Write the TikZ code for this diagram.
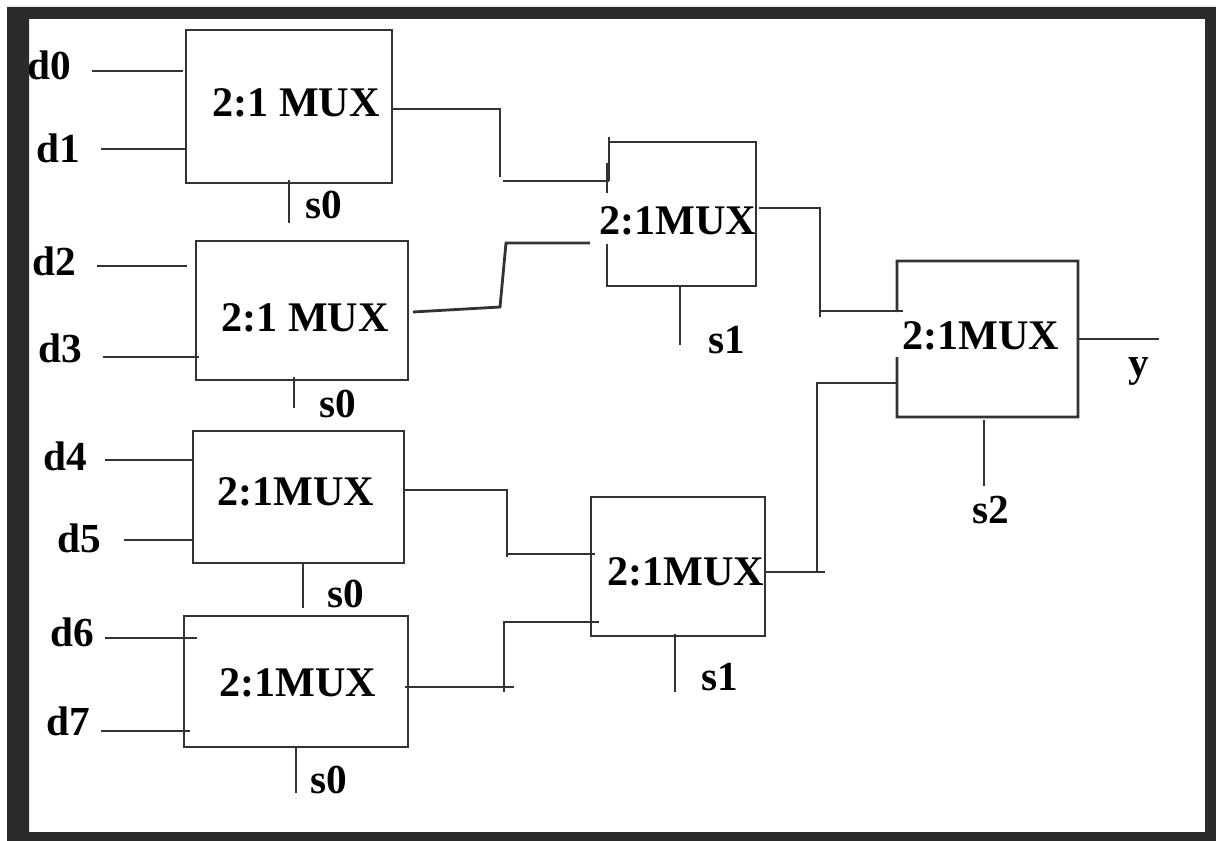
\documentclass[tikz,border=0pt]{standalone}
\usepackage{fontspec}
\setmainfont{Liberation Serif}
\usetikzlibrary{calc, positioning}
\definecolor{frameblk}{HTML}{2B2B2B}
\definecolor{wireblk}{HTML}{333333}
\tikzset{
  % blocco del multiplexer
  muxbox/.style={draw=wireblk, line width=1.6pt, outer sep=0pt, inner sep=0pt},
  % blocco con il lato sinistro interrotto
  muxopen/.style={muxbox, draw=none},
  % collegamenti
  wire/.style={line width=1.6pt, wireblk},
  % etichette
  lbl/.style={font=\fontsize{23.5}{26}\selectfont\bfseries, anchor=base west, inner sep=0pt, text=black},
  muxlbl/.style={lbl, font=\fontsize{24}{26}\selectfont\bfseries},
}
\begin{document}
\begin{tikzpicture}[x=0.02cm, y=-0.02cm]
  \useasboundingbox (0,0) rectangle (1216,841);
  % blocchi
  \node[muxbox, minimum width=4.12cm, minimum height=3.06cm] (m0) at (289,106.5) {};
  \node[muxbox, minimum width=4.24cm, minimum height=2.78cm] (m1) at (302,310.5) {};
  \node[muxbox, minimum width=4.22cm, minimum height=2.64cm] (m2) at (298.5,497) {};
  \node[muxbox, minimum width=4.48cm, minimum height=2.62cm] (m3) at (296,681.5) {};
  \node[muxopen, minimum width=2.94cm, minimum height=2.88cm] (m4) at (682.5,214) {};
  \node[muxbox, minimum width=3.48cm, minimum height=2.78cm] (m5) at (678,566.5) {};
  \node[muxopen, minimum width=3.62cm, minimum height=3.12cm] (m6) at (987.5,339) {};
  \coordinate (m4up) at (609,137); \coordinate (m4top) at (609,181); \coordinate (m4low) at (607,244);
  \coordinate (m6top) at (897,312); \coordinate (m6low) at (897,357);
  \draw[wire] (m4up) -- (m4top);
  \draw[wire] (m4.north west) -- (m4.north east) -- (m4.south east) -- (m4low |- m4.south) -- (m4low);
  \draw[wire] (m6top) -- (m6.north west) -- (m6.north east) -- (m6.south east) -- (m6.south west) -- (m6low);
  % testi dei blocchi
  \foreach \n/\t/\x/\y in {t0/2:1 MUX/212/117, t1/2:1 MUX/221/331, t2/2:1MUX/217/505, t3/2:1MUX/219/696,
    t4/2:1MUX/599/235, t5/2:1MUX/607/585, t6/2:1MUX/902/349}
    \node[muxlbl] (\n) at (\x,\y) {\t};
  % ingressi
  \foreach \n/\x/\y in {d0/27/80, d1/36/163, d2/32/275, d3/38/362, d4/43/470, d5/57/552, d6/50/646, d7/46/735}
    \node[lbl] (\n) at (\x,\y) {\n};
  \foreach \n/\m/\x/\y/\d in {0/m0/92/71/-3, 1/m0/101/149/0, 2/m1/97/266/-9, 3/m1/103/357/3,
    4/m2/105/460/0, 5/m2/124/540/0, 6/m3/105/638/13, 7/m3/101/731/6} {
    \coordinate (i\n) at (\x,\y);
    \draw[wire] (i\n) -- ($(\m.west |- i\n)+(\d,0)$);
  }
  % selezioni
  \foreach \n/\t/\x/\y in {s0a/s0/305/218, s0b/s0/319/417, s0c/s0/327/607, s0d/s0/310/793,
    s1a/s1/708/353, s1b/s1/701/690, s2a/s2/972/523, ya/y/1128/376}
    \node[lbl] (\n) at (\x,\y) {\t};
  \foreach \n/\m/\x/\y/\d in {0/m0/289/223/-3, 1/m1/294/408/-3, 2/m2/303/608/0, 3/m3/296/793/0,
    4/m4/680/345/0, 5/m5/675/692/-2, 6/m6/984/486/3} {
    \coordinate (c\n) at (\x,\y);
    \draw[wire] ($(\m.south -| c\n)+(0,\d)$) -- (c\n);
  }
  % primo stadio
  \coordinate (a0) at (500,109); \coordinate (a1) at (500,177);
  \coordinate (a2) at (503,181); \coordinate (a3) at (607,163); \coordinate (a4) at (607,193);
  \draw[wire] (m0.east |- a0) -- (a0) -- (a1);
  \draw[wire] (a2) -- (m4top);
  \draw[wire] (a3) -- (a4);
  \coordinate (b0) at (413,312); \coordinate (b1) at (500,307);
  \coordinate (b2) at (506,243); \coordinate (b3) at (590,243);
  \draw[wire] (b0) -- (b1) -- (b2) -- (b3);
  \coordinate (e0) at (507,490); \coordinate (e1) at (507,557); \coordinate (e2) at (507,554); \coordinate (e3) at (595,554);
  \draw[wire] (m2.east |- e0) -- (e0) -- (e1);
  \draw[wire] (e2) -- (e3);
  \coordinate (f0) at (405,687); \coordinate (f1) at (514,687);
  \coordinate (f2) at (504,692); \coordinate (f3) at (504,622); \coordinate (f4) at (599,622);
  \draw[wire] (f0) -- (f1);
  \draw[wire] (f2) -- (f3) -- (f4);
  % secondo stadio
  \coordinate (g0) at (759,208); \coordinate (g1) at (820,208); \coordinate (g2) at (820,317);
  \coordinate (g3) at (820,311); \coordinate (g4) at (903,311);
  \draw[wire] (g0) -- (g1) -- (g2);
  \draw[wire] (g3) -- (g4);
  \coordinate (h0) at (825,572); \coordinate (h1) at (817,572); \coordinate (h2) at (817,383);
  \draw[wire] (m5.east |- h0) -- (h0);
  \draw[wire] (h1) -- (h2) -- (m6.west |- h2);
  \coordinate (o0) at (1159,339);
  \draw[wire] (m6.east |- o0) -- (o0);
  % cornice
  \fill[frameblk, even odd rule] (7,7) rectangle (1216,841) (29,19) rectangle (1205,832);
\end{tikzpicture}
\end{document}
